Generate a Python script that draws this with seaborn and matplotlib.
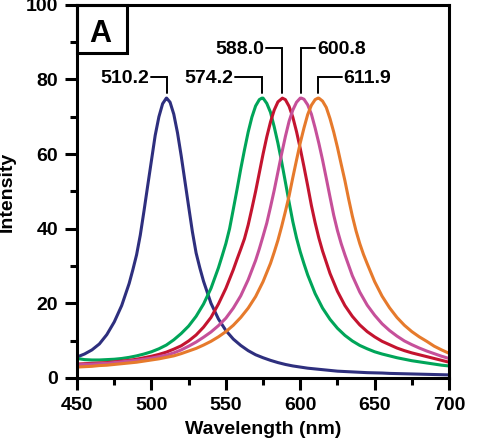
import matplotlib
matplotlib.use("Agg")
import matplotlib.pyplot as plt
import numpy as np
import pandas as pd
import seaborn as sns
from matplotlib.patches import Rectangle
from matplotlib.ticker import MultipleLocator

# wavelength grid (nm), read every 5 nm
wavelength = np.arange(450, 705, 5)

# intensities (5 nm grid)
blue = [5.6, 6.4, 7.5, 9.1, 11.6, 15.0, 19.4, 25.3, 33.0, 44.8, 58.3,
        70.0, 75.0, 70.7, 59.5, 45.9, 33.5, 25.9, 20.0, 15.8, 12.7,
        10.4, 8.7, 7.3, 6.2, 5.4, 4.7, 4.1, 3.6, 3.2, 2.9,
        2.6, 2.4, 2.2, 2.0, 1.8, 1.7, 1.6, 1.5, 1.4, 1.35,
        1.3, 1.2, 1.15, 1.1, 1.05, 1.0, 0.95, 0.9, 0.85, 0.8]
green = [5.2, 4.9, 4.8, 4.8, 4.9, 5.0, 5.2, 5.5, 5.9, 6.4, 7.0,
         7.8, 8.8, 10.2, 11.9, 13.9, 16.5, 19.8, 24.0, 29.5, 36.0,
         45.2, 56.0, 65.9, 72.9, 75.0, 71.2, 62.9, 52.5, 41.9, 33.8,
         27.6, 22.6, 18.7, 15.7, 13.3, 11.4, 9.9, 8.7, 7.8, 7.0,
         6.4, 5.9, 5.4, 5.0, 4.6, 4.3, 4.0, 3.7, 3.4, 3.2]
red = [3.7, 3.8, 3.9, 4.0, 4.1, 4.3, 4.5, 4.7, 5.0, 5.4, 5.8,
       6.3, 6.9, 7.7, 8.6, 9.9, 11.5, 13.6, 16.2, 19.8, 24.0,
       29.0, 34.5, 41.0, 50.0, 60.0, 68.6, 74.0, 74.6, 69.9, 61.5,
       51.5, 41.6, 34.0, 28.0, 23.2, 19.4, 16.5, 14.2, 12.4, 11.0,
       9.8, 8.9, 8.0, 7.3, 6.7, 6.2, 5.7, 5.2, 4.7, 4.2]
pink = [3.5, 3.6, 3.7, 3.8, 3.9, 4.1, 4.3, 4.5, 4.7, 5.0, 5.3,
        5.7, 6.1, 6.7, 7.5, 8.5, 9.6, 10.9, 12.3, 14.0, 16.0,
        18.7, 22.0, 26.3, 31.5, 38.0, 45.8, 55.2, 64.7, 71.8, 75.0,
        73.2, 67.0, 58.4, 48.5, 39.5, 33.0, 27.4, 23.0, 19.5, 16.8,
        14.5, 12.7, 11.2, 9.9, 8.9, 8.0, 7.2, 6.5, 5.8, 5.2]
orange = [2.9, 3.0, 3.1, 3.3, 3.4, 3.6, 3.8, 4.0, 4.2, 4.5, 4.8,
          5.1, 5.5, 5.9, 6.5, 7.2, 7.9, 8.8, 9.8, 11.0, 12.4,
          14.1, 16.2, 18.7, 21.8, 25.8, 30.7, 36.9, 44.6, 53.7, 63.0,
          70.6, 74.6, 74.2, 69.5, 61.8, 52.9, 43.4, 36.0, 30.6, 25.8,
          21.9, 18.8, 16.2, 14.1, 12.4, 11.0, 9.8, 8.5, 7.5, 6.6]

# extra readings between grid points around each peak
blue_fine_nm = [487.5, 492.5, 497.5, 502.5, 507.5, 512.5, 517.5, 522.5, 527.5, 532.5]
blue_fine = [29.0, 38.3, 51.6, 65.0, 73.5, 73.9, 65.7, 52.7, 39.2, 29.5]
green_fine_nm = [547.5, 552.5, 557.5, 562.5, 567.5, 572.5, 577.5, 582.5, 587.5, 592.5, 597.5, 602.5]
green_fine = [32.7, 40.0, 50.5, 61.1, 69.9, 74.6, 73.6, 67.3, 57.9, 47.1, 37.5, 30.6]
red_fine_nm = [557.5, 562.5, 567.5, 572.5, 577.5, 582.5, 592.5, 597.5, 602.5, 607.5, 612.5]
red_fine = [31.8, 37.3, 45.4, 55.0, 64.6, 71.8, 72.8, 66.0, 56.6, 46.2, 37.5]
pink_fine_nm = [572.5, 577.5, 582.5, 587.5, 592.5, 597.5, 602.5, 607.5, 612.5, 617.5, 622.5, 627.5]
pink_fine = [34.6, 41.5, 50.3, 60.1, 68.8, 73.9, 74.7, 70.7, 62.9, 53.5, 43.6, 36.0]
orange_fine_nm = [582.5, 587.5, 592.5, 597.5, 602.5, 607.5, 612.5, 617.5, 622.5, 627.5, 632.5, 637.5, 642.5]
orange_fine = [33.7, 40.6, 48.8, 58.4, 67.0, 73.1, 75.0, 72.5, 65.9, 57.3, 48.0, 39.4, 33.1]

peak_nm = [510.2, 574.2, 588.0, 600.8, 611.9]
peak_height = 75
labels = ['510.2', '574.2', '588.0', '600.8', '611.9']
colors = ['#2E2F7E', '#00A559', '#C4142F', '#C6509A', '#E67A2C']

# build long table
curves = [(blue, blue_fine_nm, blue_fine), (green, green_fine_nm, green_fine),
          (red, red_fine_nm, red_fine), (pink, pink_fine_nm, pink_fine),
          (orange, orange_fine_nm, orange_fine)]
frames = []
for name, (vals, fnm, fval), pk in zip(labels, curves, peak_nm):
    x = list(wavelength) + fnm + [pk]
    y = list(vals) + fval + [peak_height]
    d = pd.DataFrame({'wl': x, 'intensity': y, 'series': name})
    frames.append(d.sort_values('wl'))
df = pd.concat(frames, ignore_index=True)

sns.set_style('ticks')
plt.rcParams['font.family'] = ['Liberation Sans', 'DejaVu Sans']
plt.rcParams['font.weight'] = 'bold'
plt.rcParams['axes.labelweight'] = 'bold'
plt.rcParams['text.color'] = 'black'
plt.rcParams['axes.labelcolor'] = 'black'
plt.rcParams['xtick.color'] = 'black'
plt.rcParams['ytick.color'] = 'black'

fig, ax = plt.subplots(figsize=(4.94, 4.43), dpi=100)
fig.subplots_adjust(left=0.156, right=0.909, bottom=0.147, top=0.989)

sns.lineplot(data=df, x='wl', y='intensity', hue='series',
             palette=dict(zip(labels, colors)), linewidth=2.2,
             estimator=None, legend=False, ax=ax)

ax.set_xlim(450, 700)
ax.set_ylim(0, 100)
ax.xaxis.set_major_locator(MultipleLocator(50))
ax.xaxis.set_minor_locator(MultipleLocator(25))
ax.yaxis.set_major_locator(MultipleLocator(20))
ax.yaxis.set_minor_locator(MultipleLocator(10))
ax.tick_params(which='major', length=8.6, width=2.2, labelsize=14, pad=5)
ax.tick_params(which='minor', length=5, width=2.2)
for s in ax.spines.values():
    s.set_linewidth(2.2)
    s.set_color('black')

ax.set_xlabel('Wavelength (nm)', fontsize=14, fontweight='bold')
ax.set_ylabel('Intensity', fontsize=14, fontweight='bold')
ax.xaxis.set_label_coords(0.5, -0.115)
ax.yaxis.set_label_coords(-0.165, 0.5)

# peak labels with elbow connectors
sides = ['left', 'left', 'left', 'right', 'right']
arms = [10.8, 18, 11, 9.4, 16]
levels = [80.7, 80.7, 88.5, 88.5, 80.7]
for lab, pk, side, arm, lev in zip(labels, peak_nm, sides, arms, levels):
    end = pk - arm if side == 'left' else pk + arm
    ax.plot([end, pk, pk], [lev, lev, 76.3], color='black', lw=1.4,
            solid_joinstyle='miter')
    tx = end - 1.3 if side == 'left' else end + 1.3
    ax.text(tx, lev - 0.4, lab, ha='right' if side == 'left' else 'left',
            va='center', fontsize=14, fontweight='bold')

# panel letter box
ax.add_patch(Rectangle((0, 0.871), 0.134, 0.129, transform=ax.transAxes,
                       fill=False, lw=2.2, edgecolor='black', clip_on=False))
ax.text(0.063, 0.922, 'A', transform=ax.transAxes, fontsize=22,
        fontweight='bold', ha='center', va='center')

fig.savefig('out.png', dpi=100)
